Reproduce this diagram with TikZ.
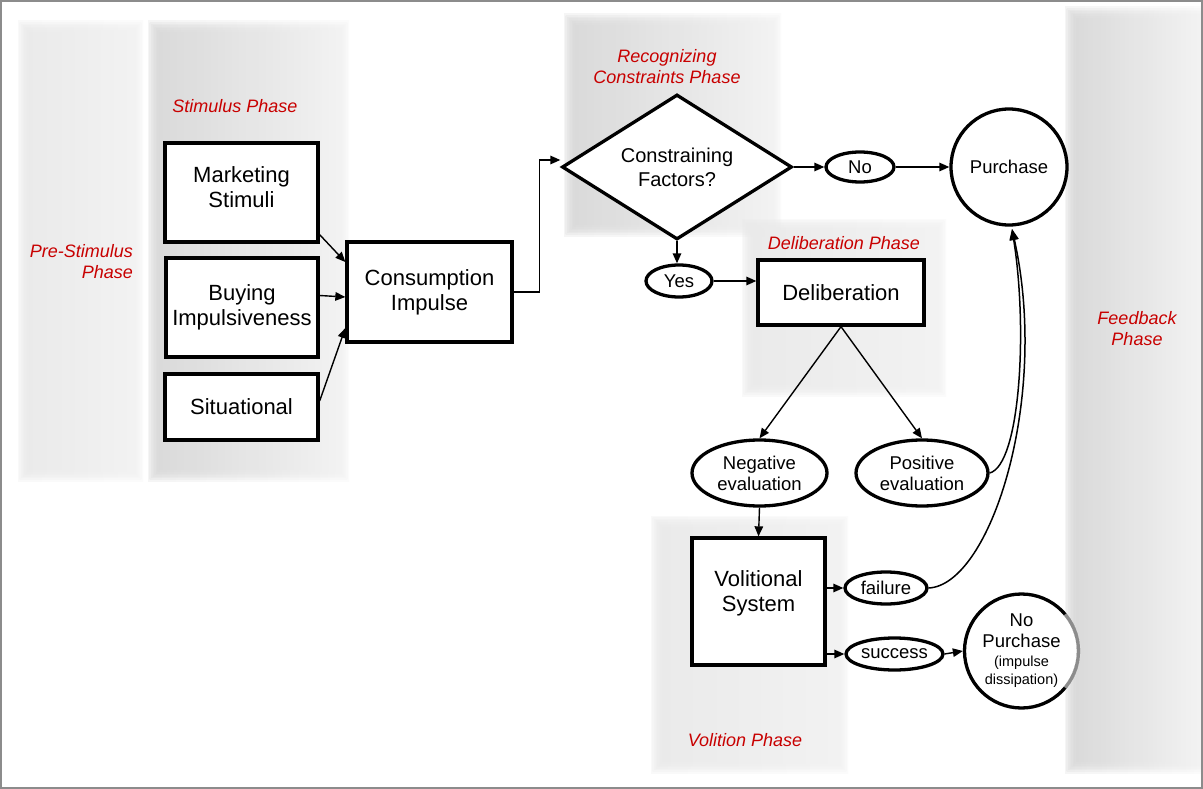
\documentclass[tikz,border=0pt]{standalone}
\usepackage{fontspec}
\setmainfont{Liberation Sans}
\usetikzlibrary{shapes.geometric,arrows.meta}
\definecolor{phasered}{RGB}{200,0,0}
\definecolor{bandA}{RGB}{234,234,234}
\definecolor{bandB}{RGB}{216,216,216}
\definecolor{bandC}{RGB}{242,242,242}
\newcommand\phaseband[7]{%
  \foreach \k in {0,1,...,7}{%
    \shade[left color=#5,middle color=#6,right color=#7,opacity=0.25]
      ({#1-6+1.6*\k},{#2-6+1.6*\k}) rectangle ({#3+6-1.6*\k},{#4+6-1.6*\k});}}
\begin{document}
\begin{tikzpicture}[x=1pt,y=-1pt,
  box/.style={draw,line width=3.3pt,fill=white,align=center,inner sep=0pt,
    font=\fontsize{22}{25}\selectfont},
  oval/.style={ellipse,draw,line width=3.3pt,fill=white,align=center,inner sep=0pt,
    font=\fontsize{18.5}{21}\selectfont},
  roundnode/.style={circle,draw,line width=3.3pt,fill=white,align=center,inner sep=0pt,
    font=\fontsize{18.5}{21}\selectfont},
  phase/.style={text=phasered,font=\itshape\fontsize{18}{21}\selectfont,align=center,inner sep=0pt},
  conn/.style={line width=1.4pt,-{Triangle[length=10pt,width=8.5pt]}},
  feed/.style={line width=1.5pt,-{Triangle[length=11pt,width=8.5pt]}}]
\useasboundingbox (0,0) rectangle (1203,789);
\fill[white] (0,0) rectangle (1203,789);
% phase bands
\phaseband{24}{27}{137}{475}{bandA}{bandB}{bandC}
\phaseband{154}{27}{343}{475}{bandB}{bandA}{bandC}
\phaseband{570}{20}{775}{230}{bandB}{bandA}{bandC}
\phaseband{748}{225}{940}{390}{bandA}{bandB}{bandC}
\phaseband{657}{522}{842}{767}{bandA}{bandB}{bandC}
\phaseband{1071}{13}{1201}{767}{bandB}{bandA}{bandC}
\draw[gray!90,line width=2pt] (1,1) rectangle (1202,788);
% phase labels
\node[phase] (lstim) at (235,106) {Stimulus Phase};
\node[phase,align=right,anchor=east] (lpre) at (133,261.5) {Pre-Stimulus\\Phase};
\node[phase] (lrec) at (667,66.5) {Recognizing\\Constraints Phase};
\node[phase] (ldel) at (844,243) {Deliberation Phase};
\node[phase] (lfeed) at (1137,328.5) {Feedback\\Phase};
\node[phase] (lvol) at (745,740) {Volition Phase};
% nodes
\node[box,minimum width=153,minimum height=99] (ms) at (241.5,192.5) {Marketing\\Stimuli\\[-21pt]\strut};
\node[box,minimum width=152,minimum height=99] (bi) at (242,307.5) {Buying\\Impulsiveness};
\node[box,minimum width=153,minimum height=66] (sit) at (241.5,407) {Situational};
\node[box,minimum width=165,minimum height=100] (ci) at (429.5,292) {Consumption\\Impulse};
\node[diamond,draw,line width=3.3pt,fill=white,align=center,inner sep=0pt,aspect=1.6,
  minimum width=230,minimum height=145,font=\fontsize{20}{24}\selectfont] (cf) at (677,167) {Constraining\\Factors?};
\node[oval,minimum width=68,minimum height=30] (no) at (860,167) {No};
\node[roundnode,minimum size=116] (pur) at (1009,167) {Purchase};
\node[oval,minimum width=66,minimum height=32] (yes) at (679,281) {Yes};
\node[box,minimum width=166,minimum height=65] (del) at (841,292.5) {Deliberation};
\node[oval,minimum width=135,minimum height=66] (neg) at (759.5,473) {Negative\\evaluation};
\node[oval,minimum width=132,minimum height=66] (pos) at (922,473) {Positive\\evaluation};
\node[box,minimum width=133,minimum height=127] (vol) at (758.5,601.5) {Volitional\\System\\[-11pt]\strut};
\node[oval,minimum width=82,minimum height=32] (fail) at (886,588) {failure};
\node[oval,minimum width=97,minimum height=32] (succ) at (894.5,654) {success};
\node[roundnode,minimum size=114] (np) at (1021.5,651) {No\\Purchase\\[-2pt]\fontsize{14.5}{17}\selectfont(impulse\\[-3pt]\fontsize{14.5}{17}\selectfont dissipation)};
\draw[white,opacity=0.55,line width=3.8pt] (np.center) ++(-40:57) arc[start angle=-40,end angle=40,radius=57];
\coordinate (pin) at (1012,229);
% connectors
\draw[conn] ([yshift=9]ms.south east) -- ([yshift=30]ci.west);
\draw[conn] ([yshift=12]bi.east) -- ([yshift=-5]ci.west);
\draw[conn] ([yshift=6]sit.east) -- ([yshift=-36]ci.west);
\draw[conn] (ci.east) -- ++(26,0) |- ([yshift=7]cf.west);
\draw[conn] (cf.south) -- (cf.south |- yes.north);
\draw[conn] (yes.east) -- (yes.east -| del.west);
\draw[conn] (cf.east) -- (no.west);
\draw[conn] (no.east) -- (pur.west);
\draw[conn] (del.south) -- (neg.north);
\draw[conn] (del.south) -- (pos.north);
\draw[conn] (neg.south) -- (vol.north);
\draw[conn] (vol.east |- fail.west) -- (fail.west);
\draw[conn] (vol.east |- succ.west) -- (succ.west);
\draw[conn] (succ.east) -- (np.west);
\draw[feed] (pos.east) .. controls (1020,465) and (1028,330) .. (pin);
\draw[feed] (fail.east) .. controls (990,585) and (1050,400) .. (pin);
\end{tikzpicture}
\end{document}
